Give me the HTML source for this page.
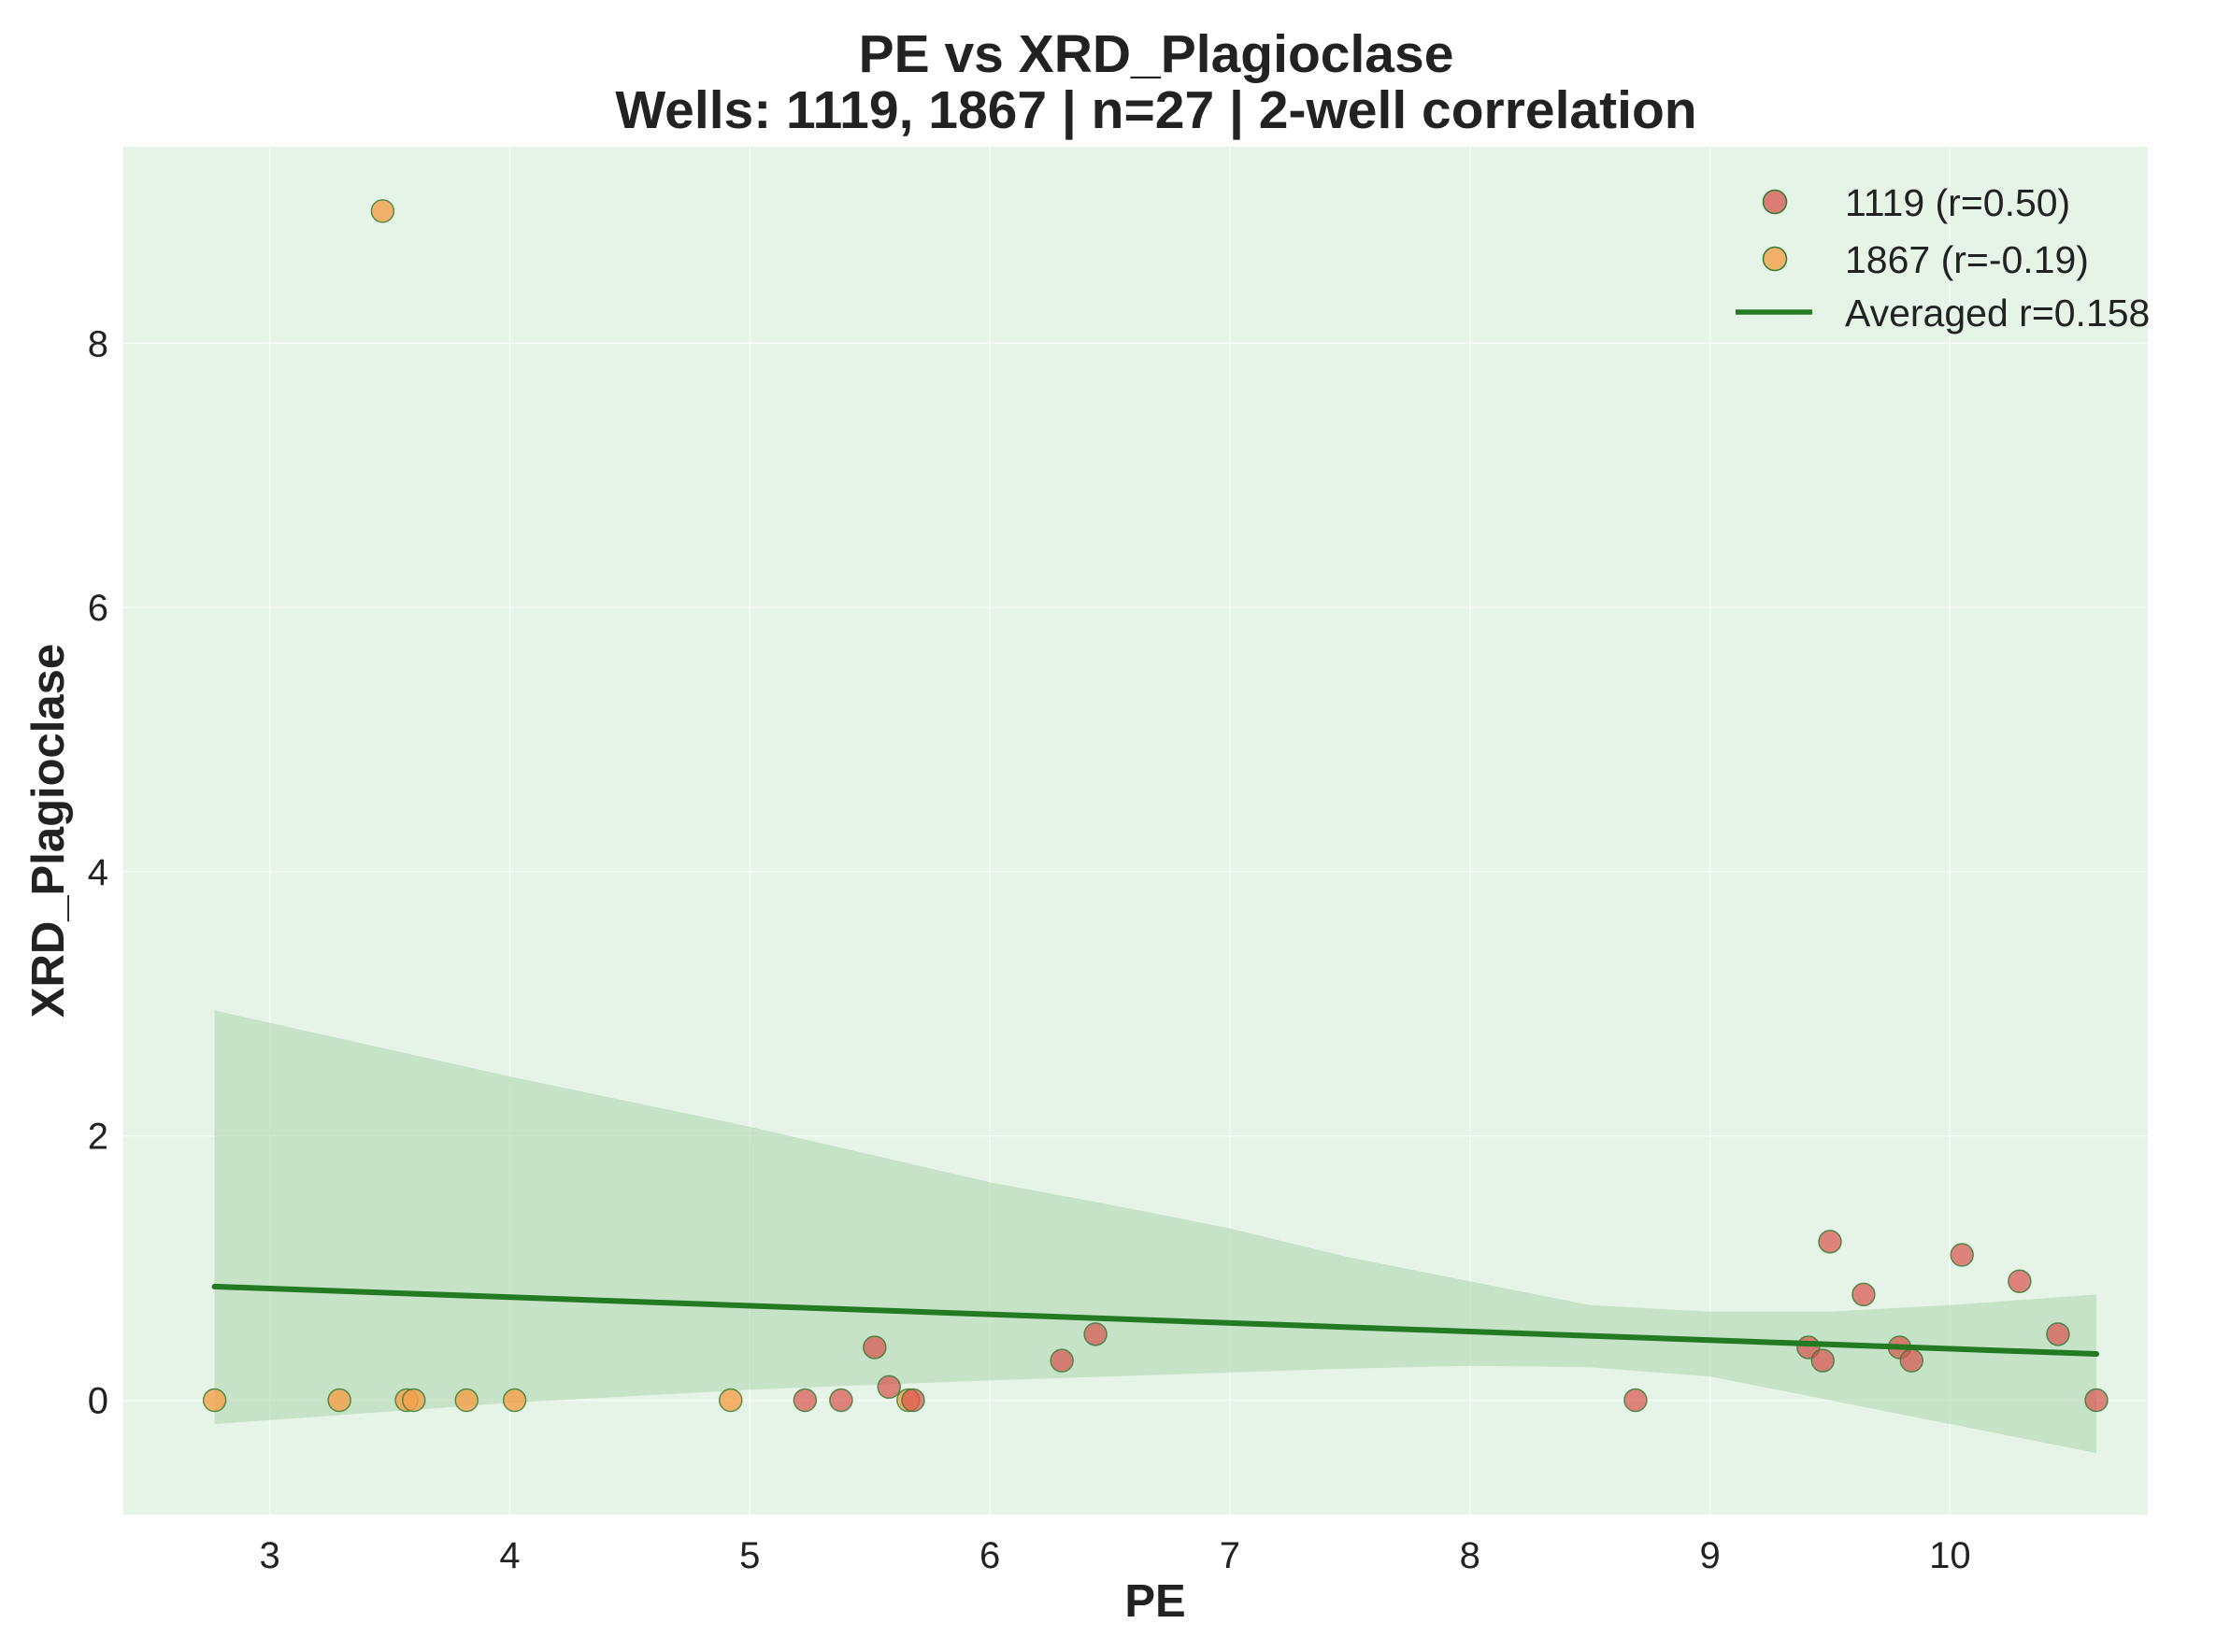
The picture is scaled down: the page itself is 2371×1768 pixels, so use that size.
<!DOCTYPE html>
<html><head><meta charset="utf-8"><style>
html,body{margin:0;padding:0;background:#fff;}
svg{display:block;font-family:"Liberation Sans",Arial,sans-serif;}
</style></head><body>
<svg id="chart" width="2371" height="1768" viewBox="0 0 2371 1768">
<rect x="131.5" y="157" width="2166.5" height="1464" fill="#e6f4e8"/>
<g id="grid"></g>
<g id="band"></g>
<g id="pts"></g>
<g id="ticks"></g>
<text x="1237" y="77" text-anchor="middle" font-size="57" font-weight="bold" fill="#222">PE vs XRD_Plagioclase</text>
<text x="1237" y="137" text-anchor="middle" font-size="57" font-weight="bold" fill="#222">Wells: 1119, 1867 | n=27 | 2-well correlation</text>
<text x="1236" y="1730" text-anchor="middle" font-size="49" font-weight="bold" fill="#222">PE</text>
<text transform="translate(68,889) rotate(-90)" text-anchor="middle" font-size="49" font-weight="bold" fill="#222">XRD_Plagioclase</text>
<g>
<circle cx="1899" cy="216" r="12.5" fill="#d9534f" fill-opacity="0.75" stroke="#2e7d32" stroke-width="1.5"/>
<text x="1974" y="231" font-size="41" fill="#222">1119 (r=0.50)</text>
<circle cx="1899" cy="277" r="12.5" fill="#f5a04a" fill-opacity="0.8" stroke="#2e7d32" stroke-width="1.5"/>
<text x="1974" y="292" font-size="41" fill="#222">1867 (r=-0.19)</text>
<line x1="1857" y1="334" x2="1939" y2="334" stroke="#237a23" stroke-width="5.5"/>
<text x="1974" y="349" font-size="41" fill="#222">Averaged r=0.158</text>
</g>
</svg>
<script>
const xTicks=[3,4,5,6,7,8,9,10];
const yTicks=[0,2,4,6,8];
const pe1119=[5.23,5.38,5.52,5.58,5.68,6.30,6.44,8.69,9.41,9.47,9.50,9.64,9.79,9.84,10.05,10.29,10.45,10.61];
const plag1119=[0,0,0.4,0.1,0,0.3,0.5,0,0.4,0.3,1.2,0.8,0.4,0.3,1.1,0.9,0.5,0];
const pe1867=[2.77,3.29,3.47,3.57,3.60,3.82,4.02,4.92,5.66];
const plag1867=[0,0,9.0,0,0,0,0,0,0];
const fitX=[2.77,10.61];
const fitY=[0.86,0.35];
const bandX=[2.77,4,5,6,6.5,7,7.5,8,8.5,9,9.5,10,10.61];
const bandUpper=[2.95,2.45,2.07,1.65,1.48,1.30,1.08,0.90,0.72,0.67,0.67,0.72,0.80];
const bandLower=[-0.18,-0.02,0.08,0.15,0.18,0.21,0.24,0.26,0.25,0.18,0.0,-0.18,-0.40];

const X0=131.5,X1=2298,Y0=1621,Y1=157;
const xmin=2.388,xmax=10.824,ymin=-0.866,ymax=9.487;
const sx=v=>X0+(v-xmin)/(xmax-xmin)*(X1-X0);
const sy=v=>Y0-(v-ymin)/(ymax-ymin)*(Y0-Y1);
const NS='http://www.w3.org/2000/svg';
function mk(tag,attrs,parent){const e=document.createElementNS(NS,tag);for(const k in attrs)e.setAttribute(k,attrs[k]);document.getElementById(parent).appendChild(e);return e;}

xTicks.forEach(v=>{
 const g=mk('line',{x1:sx(v),x2:sx(v),y1:Y1,y2:Y0,stroke:'#fff','stroke-opacity':0.6,'stroke-width':1.5},'grid');
 
 
 const t=mk('text',{x:sx(v),y:1678,'text-anchor':'middle','font-size':40,fill:'#222'},'ticks');
 t.textContent=v;
 
 
});
yTicks.forEach(v=>{
 const g=mk('line',{x1:X0,x2:X1,y1:sy(v),y2:sy(v),stroke:'#fff','stroke-opacity':0.6,'stroke-width':1.5},'grid');
 
 
 const t=mk('text',{x:116,y:sy(v)+14,'text-anchor':'end','font-size':40,fill:'#222'},'ticks');
 t.textContent=v;
 
 
});
let d='';
bandX.forEach((x,i)=>{d+=(i?'L':'M')+sx(x)+','+sy(bandUpper[i]);});
for(let i=bandX.length-1;i>=0;i--)d+='L'+sx(bandX[i])+','+sy(bandLower[i]);
const band=mk('path',{d:d+'Z',fill:'#a5cfa5','fill-opacity':0.5},'band');


function dots(xs,ys,fill,op,name){xs.forEach((x,i)=>{
 const c=mk('circle',{cx:sx(x),cy:sy(ys[i]),r:12,fill:fill,'fill-opacity':op,stroke:'#2e7d32','stroke-opacity':0.8,'stroke-width':1.5},'pts');
 
 
});}
dots(pe1867,plag1867,'#f5a04a',0.8,'point-1867');
dots(pe1119,plag1119,'#d9534f',0.7,'point-1119');
const fl=mk('line',{x1:sx(fitX[0]),y1:sy(fitY[0]),x2:sx(fitX[1]),y2:sy(fitY[1]),stroke:'#237a23','stroke-width':6,'stroke-linecap':'round'},'pts');


</script>
</body></html>
